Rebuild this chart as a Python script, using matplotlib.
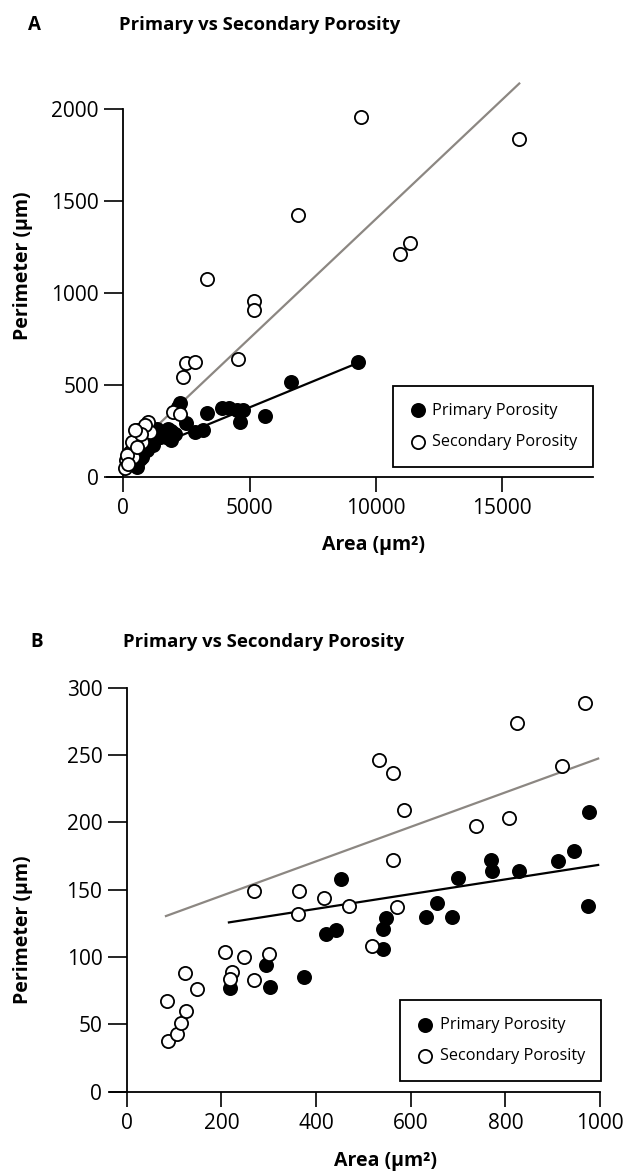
import matplotlib.pyplot as plt
import numpy as np

plt.rcParams['font.family'] = ['Open Sans', 'DejaVu Sans']

# =============================
# Data - panel A (all pores)
# =============================
a_primary_area = [9300, 6630, 5600, 3900, 4200, 4500, 4750, 4600, 3300, 3150,
                  2850, 2500, 2250, 1900, 1870, 1350, 1320, 1060, 1190, 930,
                  730, 530, 400, 1450, 800, 1100, 650, 1600, 1700, 1000, 2050,
                  300, 600, 900, 1250, 1500, 2150, 1750, 500, 1150]
a_primary_perim = [622, 513, 330, 375, 372, 365, 362, 298, 345, 255,
                   245, 292, 400, 198, 250, 262, 227, 200, 173, 145,
                   109, 54, 82, 218, 130, 190, 95, 230, 215, 165, 235,
                   70, 120, 175, 215, 245, 380, 260, 100, 230]

a_secondary_area = [15670, 9400, 6900, 10960, 11350, 3310, 5190, 5190, 2350, 2500,
                    2830, 4550, 1950, 2250, 990, 600, 1060, 860, 530, 730,
                    400, 460, 265, 370, 110, 70, 150, 330, 560, 700, 200, 450]
a_secondary_perim = [1840, 1960, 1425, 1210, 1275, 1077, 955, 905, 545, 620,
                     625, 640, 355, 342, 300, 254, 245, 281, 209, 191,
                     173, 145, 136, 109, 91, 46, 120, 190, 160, 230, 70, 255]

# fitted lines as drawn (intercept, slope, x start, x end)
a_primary_fit = (95, 0.0565, 450, 9300)
a_secondary_fit = (103.5, 0.130, 300, 15670)

# =============================
# Data - panel B (pores < 1000 µm²)
# =============================
b_primary_area = [219, 295, 303, 374, 422, 442, 452, 542, 542, 548, 633,
                  656, 688, 699, 770, 771, 829, 911, 945, 977, 975]
b_primary_perim = [77, 94, 78, 85, 117, 120, 158, 106, 121, 129, 130,
                   140, 130, 159, 172, 164, 164, 171, 179, 208, 138]

b_secondary_area = [85, 88, 106, 115, 125, 124, 149, 208, 247, 222, 219, 270,
                    301, 268, 363, 361, 417, 470, 532, 562, 585, 563, 519,
                    572, 738, 807, 825, 919, 968]
b_secondary_perim = [67, 38, 43, 51, 60, 88, 76, 104, 100, 89, 84, 83,
                     102, 149, 149, 132, 144, 138, 246, 237, 209, 172, 108,
                     137, 197, 203, 274, 242, 289]

b_primary_fit = (113.9, 0.0547, 216, 996)
b_secondary_fit = (119.8, 0.1281, 83, 996)

GREY_LINE = "#8c8782"

# =============================
# Figure
# =============================
W, H = 643, 1174
fig = plt.figure(figsize=(W / 100, H / 100), dpi=100)


def px(x, y):
    return x / W, 1 - y / H


def style_axis(ax, ytop):
    for s in ["top", "right"]:
        ax.spines[s].set_visible(False)
    ax.spines["left"].set_position(("data", 0))
    ax.spines["bottom"].set_position(("data", 0))
    ax.spines["left"].set_bounds(0, ytop)
    for s in ["left", "bottom"]:
        ax.spines[s].set_linewidth(1.3)
    ax.tick_params(axis="y", direction="out", length=13.5, width=1.2, pad=4,
                   labelsize=15)
    ax.tick_params(axis="x", direction="out", length=11, width=1.2, pad=4,
                   labelsize=15)


def draw_panel(ax, p_x, p_y, s_x, s_y, p_fit, s_fit):
    xs = np.array(s_fit[2:])
    ax.plot(xs, s_fit[0] + s_fit[1] * xs, color=GREY_LINE, lw=1.6, zorder=2)
    xp = np.array(p_fit[2:])
    ax.plot(xp, p_fit[0] + p_fit[1] * xp, color="black", lw=1.6, zorder=2)
    ax.scatter(p_x, p_y, s=90, facecolor="black", edgecolor="black",
               linewidth=1.3, zorder=3, clip_on=False, label="Primary Porosity")
    ax.scatter(s_x, s_y, s=90, facecolor="white", edgecolor="black",
               linewidth=1.3, zorder=4, clip_on=False, label="Secondary Porosity")


def add_legend(ax, x0, y0, x1, y1):
    fx0, fy0 = px(x0, y1)
    fx1, fy1 = px(x1, y0)
    leg = ax.legend(loc="upper left", bbox_to_anchor=(fx0, fy0, fx1 - fx0, fy1 - fy0),
                    bbox_transform=fig.transFigure, mode="expand", borderaxespad=0,
                    fontsize=11.7, frameon=True, fancybox=False, framealpha=1,
                    borderpad=1.04, labelspacing=0.94, handlelength=1.0,
                    handletextpad=0.4, scatterpoints=1)
    leg.get_frame().set_edgecolor("black")
    leg.get_frame().set_linewidth(1.3)


# ---- panel A ----
x0, y0 = px(106.6, 485.9)
x1, y1 = px(593.3, 72.6)
axA = fig.add_axes([x0, y0, x1 - x0, y1 - y0])
draw_panel(axA, a_primary_area, a_primary_perim, a_secondary_area, a_secondary_perim,
           a_primary_fit, a_secondary_fit)
axA.set_xlim(-660, 18600)
axA.set_ylim(-50, 2200)
axA.set_xticks([0, 5000, 10000, 15000])
axA.set_yticks([0, 500, 1000, 1500, 2000])
style_axis(axA, 2000)
add_legend(axA, 392.7, 385.7, 593.3, 464.3)

# ---- panel B ----
x0, y0 = px(110.1, 1098.4)
x1, y1 = px(601.0, 681.0)
axB = fig.add_axes([x0, y0, x1 - x0, y1 - y0])
draw_panel(axB, b_primary_area, b_primary_perim, b_secondary_area, b_secondary_perim,
           b_primary_fit, b_secondary_fit)
axB.set_xlim(-35, 1002)
axB.set_ylim(-5, 305)
axB.set_xticks([0, 200, 400, 600, 800, 1000])
axB.set_yticks([0, 50, 100, 150, 200, 250, 300])
style_axis(axB, 300)
axB.spines["bottom"].set_bounds(-35, 1000)
add_legend(axB, 400, 1000, 600.7, 1078.3)

# ---- titles and labels ----
for letter, lx, tx, ty in [("A", 28, 119, 25), ("B", 30, 123, 642)]:
    fig.text(*px(lx, ty), letter, fontsize=13.5, fontweight="bold", va="center")
    fig.text(*px(tx, ty), "Primary vs Secondary Porosity", fontsize=13.3,
             fontweight="bold", va="center")

fig.text(*px(23, 266), "Perimeter (µm)", rotation=90, fontsize=14,
         fontweight="bold", ha="center", va="center")
fig.text(*px(373, 545), "Area (µm²)", fontsize=14, fontweight="bold",
         ha="center", va="center")
fig.text(*px(23, 930), "Perimeter (µm)", rotation=90, fontsize=14,
         fontweight="bold", ha="center", va="center")
fig.text(*px(385, 1161), "Area (µm²)", fontsize=14, fontweight="bold",
         ha="center", va="center")

fig.savefig("out.png", dpi=100)
